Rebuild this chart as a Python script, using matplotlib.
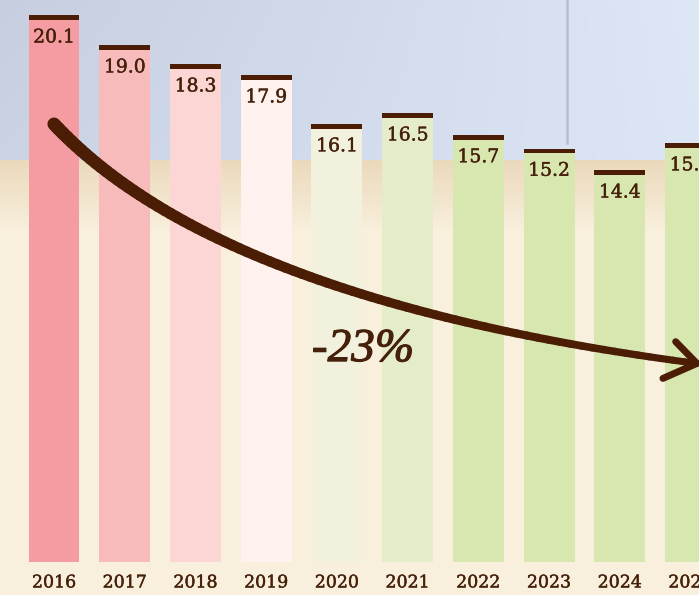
import numpy as np
import matplotlib
matplotlib.use("Agg")
import matplotlib.pyplot as plt
import matplotlib.patheffects as pe
from matplotlib.collections import LineCollection

years = ["2016", "2017", "2018", "2019", "2020", "2021", "2022", "2023", "2024", "2025"]
values = [20.1, 19.0, 18.3, 17.9, 16.1, 16.5, 15.7, 15.2, 14.4, 15.4]
bar_colors = ["#f59ca3", "#f8bbbc", "#fbd6d4", "#fef1ee", "#f1f1dd",
              "#e5ecc8", "#d8e7b0", "#d8e7b0", "#d8e7b0", "#d8e7b0"]
change_label = "-23%"

BROWN = "#4a1d04"
TEXT = "#45200a"

W, H = 699, 595
fig = plt.figure(figsize=(W / 100, H / 100), dpi=100)

# background: pale sky on top, paper/sand below
bg = np.zeros((H, W, 3))
horizon = 160
xs = np.linspace(0, 1, W)
sky_l = np.array([0xc6, 0xce, 0xe0]) / 255
sky_r = np.array([0xdd, 0xe7, 0xf6]) / 255
for r in range(horizon):
    f = r / horizon
    row = sky_l[None, :] * (1 - xs[:, None]) + sky_r[None, :] * xs[:, None]
    bg[r] = row * (1 - 0.25 * f) + np.array([0xd8, 0xe2, 0xf2]) / 255 * 0.25 * f
sand_top = np.array([0xeb, 0xd9, 0xbc]) / 255
sand_low = np.array([0xf8, 0xef, 0xdc]) / 255
for r in range(horizon, H):
    f = min(1.0, (r - horizon) / 70)
    bg[r] = sand_top * (1 - f) + sand_low * f
fig.figimage(bg, origin="upper", zorder=0)

ax = fig.add_axes([0, 0, 1, 1], zorder=2)
ax.patch.set_visible(False)
px_per_unit = 27.2
ax.set_xlim(-0.764, 9.12)
ax.set_ylim(-(H - 562) / px_per_unit, 562 / px_per_unit)
ax.axis("off")

x = np.arange(len(values))
width = 0.72
ax.bar(x, values, width=width, color=bar_colors, zorder=2)
cap = 0.17
ax.bar(x, [cap] * len(values), bottom=np.array(values) - cap, width=width,
       color=BROWN, zorder=3)

thick = [pe.withStroke(linewidth=0.3, foreground=TEXT)]
for xi, v in zip(x, values):
    ax.annotate(f"{v:.1f}", (xi, v), xytext=(0, -16), textcoords="offset points",
                ha="center", va="center", fontsize=13.5, color=TEXT,
                family="DejaVu Serif", zorder=4, path_effects=thick)

for xi, yr in zip(x, years):
    ax.text(xi, -0.77, yr, ha="center", va="center", fontsize=12.5,
            color=TEXT, family="DejaVu Serif", zorder=4, path_effects=thick)

# faint crease in the sky
ax.plot([7.25, 7.25], [15.4, 20.66], color="#7f88ad", lw=1.8, alpha=0.4, zorder=1)

# trend arrow (quadratic curve, tapering stroke)
p0 = np.array([0.0, values[0] - 4.0])
c = np.array([2.35, 9.6])
p2 = np.array([9.09, 7.3])
t = np.linspace(0, 1, 80)[:, None]
curve = (1 - t) ** 2 * p0 + 2 * (1 - t) * t * c + t ** 2 * p2
segs = np.stack([curve[:-1], curve[1:]], axis=1)
lw = np.linspace(9.5, 5.0, len(segs))
ax.add_collection(LineCollection(segs, linewidths=lw, colors=BROWN,
                                 capstyle="round", zorder=5))
ax.plot([p2[0] - 0.3, p2[0], p2[0] - 0.48], [p2[1] + 0.8, p2[1], p2[1] - 0.55],
        color=BROWN, lw=5, solid_capstyle="round", solid_joinstyle="round", zorder=5)

ax.text(4.37, 7.8, change_label, ha="center", va="center", fontsize=34,
        fontstyle="italic", family="Liberation Serif", color=TEXT, zorder=4,
        path_effects=[pe.withStroke(linewidth=0.8, foreground=TEXT)])

fig.savefig("out.png", dpi=100)
